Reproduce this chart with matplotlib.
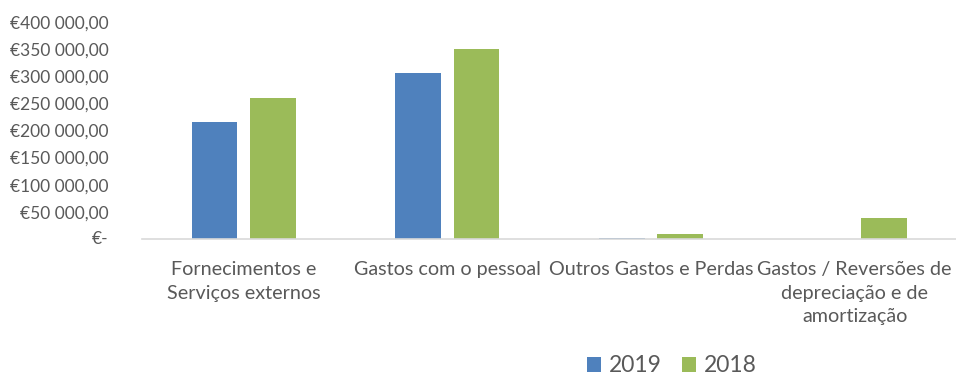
import numpy as np
import matplotlib.pyplot as plt
from matplotlib.ticker import FuncFormatter

categorias = ["Fornecimentos e\nServiços externos",
              "Gastos com o pessoal",
              "Outros Gastos e Perdas",
              "Gastos / Reversões de\ndepreciação e de\namortização"]
anos = ["2019", "2018"]
gastos_2019 = [216500, 306000, 2000, 0]
gastos_2018 = [259500, 350000, 9000, 38500]
cores = ["#4F81BD", "#9BBB59"]

plt.rcParams['font.family'] = ['Lato', 'DejaVu Sans']
cinza = "#595959"

fig = plt.figure(figsize=(9.56, 3.76), dpi=100)
ax = fig.add_axes([0.1485, 0.3644, 0.852, 0.5771])

x = np.arange(len(categorias))
w = 0.224
gap = 0.062
ax.bar(x - (w + gap) / 2, gastos_2019, w, color=cores[0], label=anos[0])
ax.bar(x + (w + gap) / 2, gastos_2018, w, color=cores[1], label=anos[1])

ax.set_xlim(-0.5, len(categorias) - 0.5)
ax.set_ylim(0, 400000)
ax.set_yticks(np.arange(0, 400001, 50000))


def euros(v, pos):
    # o zero em formato contabilístico é escrito à parte
    if v == 0:
        return ""
    s = f"{int(v):,}".replace(",", " ")
    return f"€{s},00"


ax.yaxis.set_major_formatter(FuncFormatter(euros))
ax.tick_params(axis='y', length=0, pad=24, labelsize=12.5, labelcolor=cinza)
ax.annotate("€-", xy=(0, 0), xycoords=('axes fraction', 'data'),
            xytext=(-24, 0), textcoords='offset points',
            ha='right', va='center', fontsize=12.5, color=cinza)

ax.tick_params(axis='x', length=0, pad=16, labelsize=14.2, labelcolor=cinza)
ax.set_xticks(x)
ax.set_xticklabels(categorias, linespacing=1.45, va='top')

for s in ["top", "right", "left"]:
    ax.spines[s].set_visible(False)
ax.spines["bottom"].set_color("#D9D9D9")
ax.spines["bottom"].set_linewidth(1.2)

fig.legend(loc='lower center', bbox_to_anchor=(0.703, -0.056), ncol=2,
           frameon=False, fontsize=16.5, labelcolor=cinza,
           handlelength=0.6, handleheight=0.6, handletextpad=0.35,
           columnspacing=0.9)

fig.savefig("out.png", dpi=100)
